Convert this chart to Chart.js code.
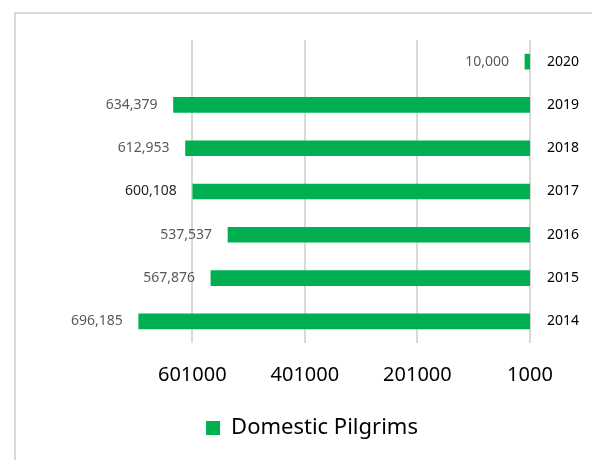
<!DOCTYPE html>
<html>
<head>
<meta charset="utf-8">
<script src="https://cdn.jsdelivr.net/npm/chart.js@4"></script>
<style>
  html, body { margin: 0; padding: 0; overflow: hidden; background: #fff; }
  #wrap {
    position: absolute; left: 14px; top: 12px;
    width: 592px; height: 460px;
    border-left: 2px solid #d9d9d9; border-top: 2px solid #d9d9d9;
  }
  canvas { display: block; }
</style>
</head>
<body>
<div id="wrap"><canvas id="pilgrimsChart" width="592" height="460"></canvas></div>
<script>
// données
const years = ["2020", "2019", "2018", "2017", "2016", "2015", "2014"];
const pilgrims = [10000, 634379, 612953, 600108, 537537, 567876, 696185];
const xTicks = [1000, 201000, 401000, 601000];

const labelColors = ["#595959", "#595959", "#595959", "#262626", "#595959", "#595959", "#595959"];

// étiquettes de valeurs à gauche de chaque barre
const valueLabels = {
  id: "valueLabels",
  afterDatasetsDraw(chart) {
    const ctx = chart.ctx;
    const meta = chart.getDatasetMeta(0);
    ctx.save();
    ctx.font = "14px 'Noto Sans'";
    ctx.textAlign = "right";
    ctx.textBaseline = "middle";
    meta.data.forEach(function (bar, i) {
      ctx.fillStyle = labelColors[i];
      ctx.fillText(pilgrims[i].toLocaleString("en-US"), bar.x - 16, bar.y);
    });
    ctx.restore();
  },
};

document.addEventListener("DOMContentLoaded", function () {
  const ctx = document.getElementById("pilgrimsChart").getContext("2d");
  new Chart(ctx, {
    type: "bar",
    data: {
      labels: years,
      datasets: [
        {
          label: "Domestic Pilgrims",
          data: pilgrims,
          backgroundColor: "#00b050",
          borderWidth: 0,
          barThickness: 15,
          yAxisID: "y",
        },
      ],
    },
    options: {
      indexAxis: "y",
      responsive: false,
      animation: false,
      devicePixelRatio: 1,
      layout: { padding: { left: 0, top: 26, bottom: 25, right: 0 } },
      scales: {
        x: {
          reverse: true,
          min: 1000,
          max: 701000,
          afterBuildTicks(scale) {
            scale.ticks = xTicks.map((v) => ({ value: v }));
          },
          afterFit(scale) {
            scale.height = 46;
          },
          grid: { color: "#d9d9d9", lineWidth: 2, drawTicks: false },
          border: { display: false },
          ticks: {
            padding: 20,
            color: "#000",
            font: { family: "'Noto Sans'", size: 20 },
            callback: (v) => String(v),
          },
        },
        y: {
          position: "right",
          grid: { display: false, drawTicks: false },
          border: { display: false },
          afterFit(scale) {
            scale.width = 78;
          },
          ticks: {
            padding: 17,
            color: "#000",
            font: { family: "'Noto Sans'", size: 14 },
          },
        },
        // axe vide à gauche, pour laisser la place aux étiquettes
        yLeft: {
          type: "category",
          position: "left",
          labels: years,
          grid: { display: false, drawTicks: false },
          border: { display: false },
          ticks: { display: false },
          afterFit(scale) {
            scale.width = 120;
          },
        },
      },
      plugins: {
        legend: {
          position: "bottom",
          labels: {
            boxWidth: 14,
            boxHeight: 14,
            padding: 28,
            color: "#000",
            font: { family: "'Noto Sans'", size: 22 },
          },
        },
        tooltip: { enabled: false },
      },
    },
    plugins: [valueLabels],
  });
});
</script>
</body>
</html>
